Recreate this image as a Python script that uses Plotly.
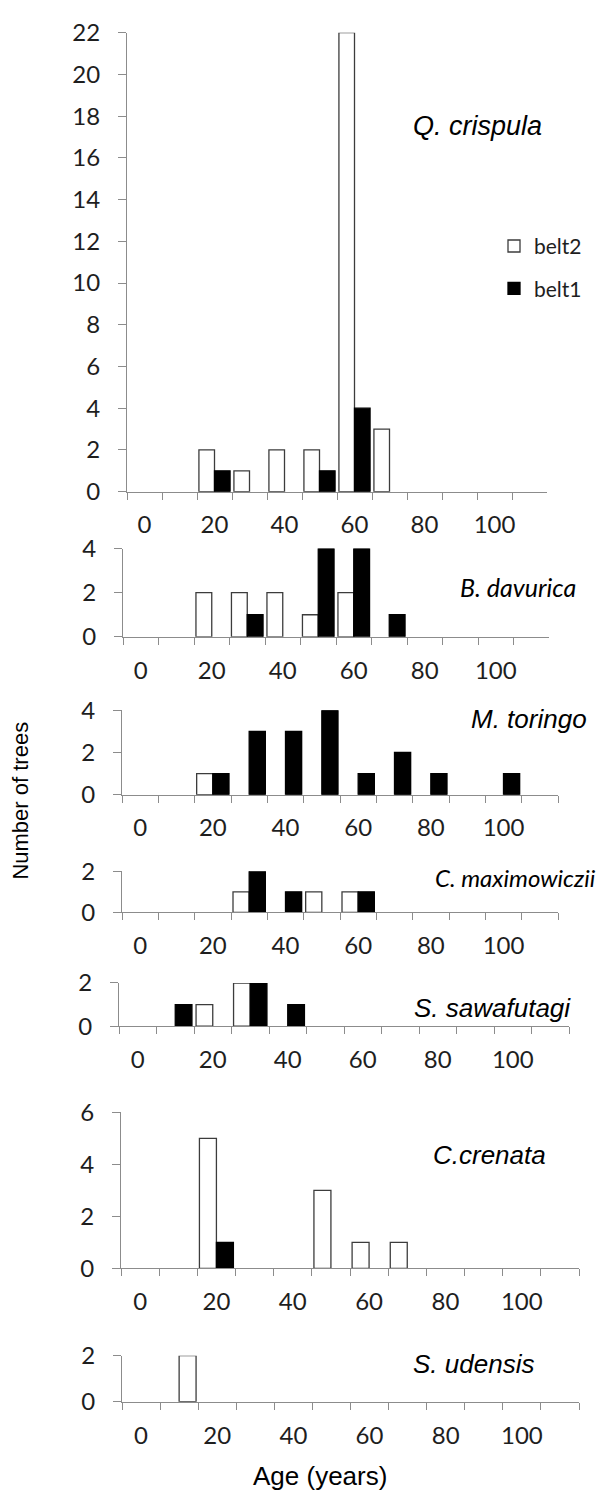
import plotly.graph_objects as go

# ---------------- data ----------------
age_classes = ["0", "10", "20", "30", "40", "50", "60", "70", "80", "90", "100", "110"]
age_tick_text = ["0", "", "20", "", "40", "", "60", "", "80", "", "100", ""]

species = ["Q. crispula", "B. davurica", "M. toringo", "C. maximowiczii",
           "S. sawafutagi", "C.crenata", "S. udensis"]

q_crispula_belt2 = [None, None, 2, 1, 2, 2, 22, 3, None, None, None, None]
q_crispula_belt1 = [None, None, 1, None, None, 1, 4, None, None, None, None, None]

b_davurica_belt2 = [None, None, 2, 2, 2, 1, 2, None, None, None, None, None]
b_davurica_belt1 = [None, None, None, 1, None, 4, 4, 1, None, None, None, None]

m_toringo_belt2 = [None, None, 1, None, None, None, None, None, None, None, None, None]
m_toringo_belt1 = [None, None, 1, 3, 3, 4, 1, 2, 1, None, 1, None]

c_maximowiczii_belt2 = [None, None, None, 1, None, 1, 1, None, None, None, None, None]
c_maximowiczii_belt1 = [None, None, None, 2, 1, None, 1, None, None, None, None, None]

s_sawafutagi_belt2 = [None, None, 1, 2, None, None, None, None, None, None, None, None]
s_sawafutagi_belt1 = [None, 1, None, 2, 1, None, None, None, None, None, None, None]

c_crenata_belt2 = [None, None, 5, None, None, 3, 1, 1, None, None, None, None]
c_crenata_belt1 = [None, None, 1, None, None, None, None, None, None, None, None, None]

s_udensis_belt2 = [None, 2, None, None, None, None, None, None, None, None, None, None]
s_udensis_belt1 = [None, None, None, None, None, None, None, None, None, None, None, None]

y_max = [22, 4, 4, 2, 2, 6, 2]

series = [
    (q_crispula_belt2, q_crispula_belt1),
    (b_davurica_belt2, b_davurica_belt1),
    (m_toringo_belt2, m_toringo_belt1),
    (c_maximowiczii_belt2, c_maximowiczii_belt1),
    (s_sawafutagi_belt2, s_sawafutagi_belt1),
    (c_crenata_belt2, c_crenata_belt1),
    (s_udensis_belt2, s_udensis_belt1),
]

# ---------------- layout / style ----------------
W, H = 601, 1504
# plot-area boxes in pixels: (x0, x1, ytop, ybottom)
boxes = [
    (127, 547, 17, 485),
    (123, 549, 543, 633),
    (122, 558, 708, 794),
    (122, 558, 872, 914),
    (119, 569, 986, 1030),
    (121, 579, 1118, 1277),
    (122, 579, 1366, 1413),
]
# species label: (right edge px, y centre px, font family, size)
ARIAL_I = "Liberation Sans"
CALI_I = "Lato"
label_pos = [
    (544, 112, ARIAL_I, 27),
    (578, 582, CALI_I, 25),
    (589, 717, ARIAL_I, 26),
    (598, 878, CALI_I, 24),
    (573, 1011, ARIAL_I, 26),
    (548, 1161, ARIAL_I, 26),
    (536, 1375, ARIAL_I, 26),
]
# S. udensis: white bar drawn in the right-hand slot
belt2_first = [True, True, True, True, True, True, False]

AX = "#8c8c8c"
EDGE = "#3c3c3c"
TXT = "#1e1e1e"
TICKFONT = dict(family="Lato", size=24, color=TXT)

fig = go.Figure()
annotations = []

for i, (b2, b1) in enumerate(series):
    n = i + 1
    xa = "x" if n == 1 else f"x{n}"
    ya = "y" if n == 1 else f"y{n}"
    t2 = go.Bar(x=age_classes, y=b2, name="belt2", xaxis=xa, yaxis=ya,
                marker=dict(color="white", line=dict(color=EDGE, width=1.3)),
                legendgroup="belt2", showlegend=(i == 0))
    t1 = go.Bar(x=age_classes, y=b1, name="belt1", xaxis=xa, yaxis=ya,
                marker=dict(color="black", line=dict(color="black", width=1.3)),
                legendgroup="belt1", showlegend=(i == 0))
    if belt2_first[i]:
        fig.add_trace(t2)
        fig.add_trace(t1)
    else:
        fig.add_trace(t1)
        fig.add_trace(t2)

    x0, x1, yt, yb = boxes[i]
    xkey = "xaxis" if n == 1 else f"xaxis{n}"
    ykey = "yaxis" if n == 1 else f"yaxis{n}"
    fig.layout[xkey] = dict(
        domain=[x0 / W, x1 / W], anchor=ya, type="category",
        categoryorder="array", categoryarray=age_classes,
        range=[-0.5, len(age_classes) - 0.5],
        tickmode="array", tickvals=age_classes, ticktext=age_tick_text,
        tickson="boundaries", ticks="outside", ticklen=7, tickcolor=AX,
        tickwidth=1, showline=True, linecolor=AX, linewidth=1,
        showgrid=False, zeroline=False, tickfont=TICKFONT, tickangle=0,
        ticklabelstandoff=12, fixedrange=True,
    )
    fig.layout[ykey] = dict(
        domain=[1 - yb / H, 1 - yt / H], anchor=xa,
        range=[0, y_max[i]], tickmode="linear", tick0=0, dtick=2,
        ticks="outside", ticklen=8, tickcolor=AX, tickwidth=1,
        showline=True, linecolor=AX, linewidth=1, showgrid=False,
        zeroline=False, tickfont=TICKFONT, ticklabelstandoff=13,
        fixedrange=True,
    )

    lx, ly, fam, fs = label_pos[i]
    annotations.append(dict(
        text=f"<i>{species[i]}</i>", x=lx / W, y=1 - ly / H,
        xref="paper", yref="paper", xanchor="right", yanchor="middle",
        showarrow=False, font=dict(family=fam, size=fs, color="black"),
    ))

annotations.append(dict(
    text="Number of trees", x=21 / W, y=1 - 800 / H, xref="paper", yref="paper",
    textangle=-90, showarrow=False, xanchor="center", yanchor="middle",
    font=dict(family="Liberation Sans", size=22, color="black"),
))
annotations.append(dict(
    text="Age (years)", x=320 / W, y=1 - 1489 / H, xref="paper", yref="paper",
    showarrow=False, xanchor="center", yanchor="middle",
    font=dict(family="Liberation Sans", size=26, color="black"),
))

fig.update_layout(
    width=W, height=H, margin=dict(l=0, r=0, t=0, b=0),
    paper_bgcolor="white", plot_bgcolor="white",
    barmode="group", bargap=0.11, bargroupgap=0,
    annotations=annotations,
    legend=dict(x=494 / W, y=1 - 214 / H, xanchor="left", yanchor="top",
                bgcolor="rgba(0,0,0,0)", font=dict(family="Lato", size=21, color=TXT),
                traceorder="grouped", tracegroupgap=12, itemwidth=30),
    showlegend=True,
)

fig.write_html(
    "out.html",
    config={"displayModeBar": False},
    post_script="document.body.style.margin='0';document.body.style.overflow='hidden';",
)
